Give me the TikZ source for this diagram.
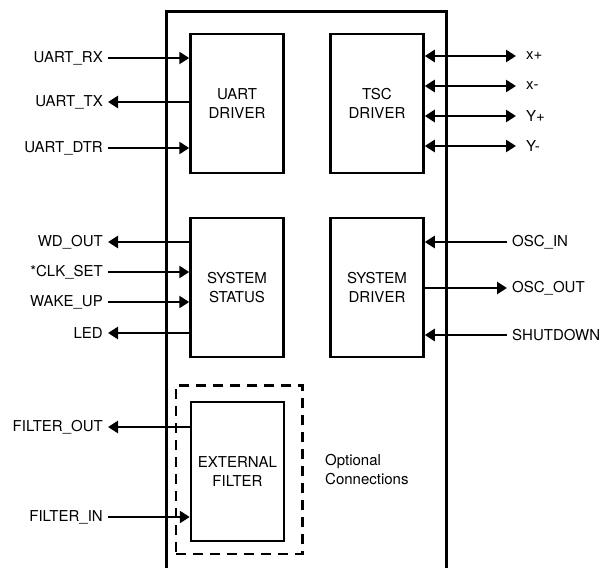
\documentclass[tikz,border=0pt]{standalone}
\usepackage{fontspec}
\setmainfont{TeX Gyre Heros}
\usetikzlibrary{arrows.meta, positioning, fit}

\begin{document}
\begin{tikzpicture}[
    x=1pt, y=-1pt,
    >={Triangle[length=10pt, width=12pt]},
    font=\fontsize{15}{19.5}\selectfont,
    % Estilos
    blockbox/.style={rectangle, draw, line width=2.5pt, minimum width=93pt, minimum height=139pt, align=center, inner sep=0pt},
    pinlbl/.style={inner ysep=0pt, inner xsep=5pt},
    sig/.style={line width=2.5pt}
]
\useasboundingbox (0,0) rectangle (603,568);

% -------------------------
% CHIP (contorno)
% -------------------------
\coordinate (chipbl) at (166,580);
\coordinate (chiptl) at (166,11);
\coordinate (chiptr) at (446,11);
\coordinate (chipbr) at (446,580);
\draw[line width=3pt] (chipbl) -- (chiptl) -- (chiptr) -- (chipbr);

% -------------------------
% BLOQUES
% -------------------------
\node[blockbox] (uart) at (237,103.5) {UART\\DRIVER};
\node[blockbox] (tsc) at (377,103.5) {TSC\\DRIVER};
\node[blockbox] (status) at (237,287.5) {SYSTEM\\STATUS};
\node[blockbox] (sysdrv) at (377,287.5) {SYSTEM\\DRIVER};
\node[blockbox] (filter) at (237.5,471.5) {EXTERNAL\\FILTER};

\node[draw, line width=2.5pt, dash pattern=on 10pt off 7pt, fit=(filter), inner xsep=15.5pt, inner ysep=13.5pt, xshift=1.5pt, yshift=2pt] (optbox) {};
\node[anchor=west, align=left, inner sep=0pt] (optlbl) at (325,469.5) {Optional\\Connections};

% -------------------------
% UART (izquierda)
% -------------------------
\node[pinlbl, anchor=east] (rx) at (108,58) {UART\_RX};
\node[pinlbl, anchor=east] (tx) at (108,102) {UART\_TX};
\node[pinlbl, anchor=east] (dtr) at (108,148) {UART\_DTR};
\draw[->, sig] (rx) -- (rx -| uart.west);
\draw[<-, sig] (tx) -- (tx -| uart.west);
\draw[->, sig] (dtr) -- (dtr -| uart.west);

% -------------------------
% TSC (derecha)
% -------------------------
\node[pinlbl, anchor=west, inner xsep=10pt] (xp) at (516,56) {x+};
\node[pinlbl, anchor=west, inner xsep=10pt] (xm) at (516,86) {x-};
\node[pinlbl, anchor=west, inner xsep=10pt] (yp) at (516,116) {Y+};
\node[pinlbl, anchor=west, inner xsep=10pt] (ym) at (516,146) {Y-};
\draw[<->, sig] (xp -| tsc.east) -- (xp);
\draw[<->, sig] (xm -| tsc.east) -- (xm);
\draw[<->, sig] (yp -| tsc.east) -- (yp);
\draw[<->, sig] (ym -| tsc.east) -- (ym);

% -------------------------
% SYSTEM STATUS (izquierda)
% -------------------------
\node[pinlbl, anchor=east] (wdout) at (108,242) {WD\_OUT};
\node[pinlbl, anchor=east] (clkset) at (108,272) {*CLK\_SET};
\node[pinlbl, anchor=east] (wakeup) at (108,302) {WAKE\_UP};
\node[pinlbl, anchor=east] (led) at (108,333) {LED};
\draw[<-, sig] (wdout) -- (wdout -| status.west);
\draw[->, sig] (clkset) -- (clkset -| status.west);
\draw[->, sig] (wakeup) -- (wakeup -| status.west);
\draw[<-, sig] (led) -- (led -| status.west);

% -------------------------
% SYSTEM DRIVER (derecha)
% -------------------------
\node[pinlbl, anchor=west] (oscin) at (507,242) {OSC\_IN};
\node[pinlbl, anchor=west] (oscout) at (507,288) {OSC\_OUT};
\node[pinlbl, anchor=west] (shdn) at (507,335) {SHUTDOWN};
\draw[->, sig] (oscin) -- (oscin -| sysdrv.east);
\draw[<-, sig] (oscout) -- (oscout -| sysdrv.east);
\draw[->, sig] (shdn) -- (shdn -| sysdrv.east);

% -------------------------
% EXTERNAL FILTER (izquierda)
% -------------------------
\node[pinlbl, anchor=east] (fout) at (108,427) {FILTER\_OUT};
\node[pinlbl, anchor=east] (fin) at (108,517) {FILTER\_IN};
\draw[<-, sig] (fout) -- (fout -| filter.west);
\draw[->, sig] (fin) -- (fin -| filter.west);

\end{tikzpicture}
\end{document}
